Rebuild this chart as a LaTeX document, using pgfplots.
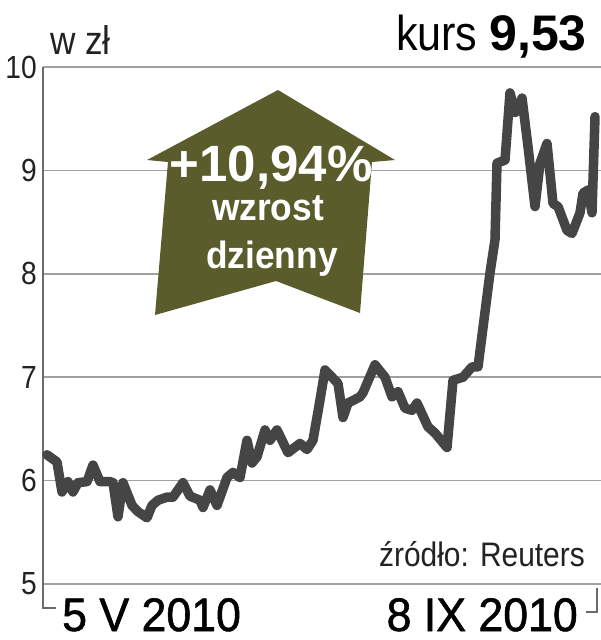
\documentclass[border=0pt]{standalone}
\usepackage{pgfplots}
\pgfplotsset{compat=1.18}
\usepackage{fontspec}
\setmainfont{Liberation Sans}
\newfontfamily\narrowfont{Liberation Sans}[FakeStretch=0.88]
\newfontfamily\narrowbold{Liberation Sans Bold}[FakeStretch=0.93]
\newfontfamily\semibold{Liberation Sans}[FakeBold=1.2, FakeStretch=0.95]
\definecolor{linegray}{HTML}{454545}
\definecolor{gridgray}{HTML}{A0A0A0}
\definecolor{axisgray}{HTML}{6A6A6A}
\definecolor{arrowolive}{HTML}{5A5C2B}
\definecolor{txt}{HTML}{222222}
\begin{document}
\begin{tikzpicture}
\useasboundingbox (0pt,0pt) rectangle (601pt,-640pt);
\begin{axis}[
  at={(43pt,-584pt)}, anchor=south west,
  scale only axis, width=558pt, height=517pt,
  xmin=43, xmax=601, ymin=5, ymax=10,
  axis x line*=bottom, axis y line*=left,
  x axis line style={draw=gridgray, line width=1.6pt},
  y axis line style={draw=axisgray, line width=1.8pt},
  xtick=\empty,
  ytick={5,6,7,8,9,10},
  ymajorgrids,
  grid style={draw=gridgray, line width=1.6pt},
  major tick length=0pt,
  /pgf/number format/assume math mode=true,
  yticklabel style={font=\narrowfont\fontsize{32}{32}\selectfont, text=txt, anchor=east, inner sep=0pt, xshift=-6pt},
  clip=false,
]
\addplot[linegray, line width=9.5pt, line join=round, line cap=round] coordinates {
(47,6.25) (57,6.18) (62,5.89) (68,5.99) (73,5.89) (78,5.98) (87,5.99) (93,6.15)
(100,5.99) (110,5.99) (113,5.98) (118,5.65) (123,5.98) (132,5.76) (138,5.70)
(147,5.64) (152,5.76) (158,5.81) (167,5.84) (173,5.84) (183,5.98) (190,5.85)
(200,5.81) (203,5.74) (210,5.91) (217,5.76) (227,6.03) (233,6.08) (240,6.03)
(247,6.39) (252,6.17) (257,6.23) (265,6.49) (270,6.39) (277,6.49) (288,6.27)
(300,6.36) (307,6.30) (313,6.39) (320,6.78) (325,7.07) (338,6.94) (343,6.61)
(348,6.75) (360,6.81) (363,6.85) (375,7.12) (385,7.00) (392,6.81) (398,6.86)
(405,6.70) (412,6.68) (417,6.75) (428,6.52) (435,6.46) (447,6.32) (453,6.97)
(463,7.00) (472,7.10) (478,7.10) (490,8.01) (495,8.33) (497,9.07) (505,9.10)
(510,9.75) (515,9.56) (518,9.58) (522,9.70) (528,9.23) (535,8.65) (540,9.07)
(547,9.26) (553,8.68) (558,8.65) (567,8.42) (572,8.39) (580,8.59) (583,8.78)
(588,8.81) (592,8.59) (595,9.52)
};
\end{axis}
\begin{scope}[x=1pt,y=-1pt]
  % arrow
  \fill[arrowolive] (278,90) -- (395,160) -- (372,162) -- (360,313) -- (276,281)
     -- (155,315) -- (168,162) -- (147,160) -- cycle;
  \node[text=white, font=\bfseries\fontsize{51}{51}\selectfont, anchor=base, inner sep=0pt] at (271,181) {+10,94\%};
  \node[text=white, font=\narrowbold\fontsize{38}{38}\selectfont, anchor=base, inner sep=0pt] at (268,220) {wzrost};
  \node[text=white, font=\narrowbold\fontsize{38}{38}\selectfont, anchor=base, inner sep=0pt] at (272,268) {dzienny};
  % titles
  \node[text=txt, font=\narrowfont\fontsize{40}{40}\selectfont, anchor=base west, inner sep=0pt] at (50,54) {w zł};
  \node[text=black, anchor=base east, inner sep=0pt] at (587,50) {{\narrowfont\fontsize{49}{49}\selectfont kurs }{\bfseries\fontsize{50}{50}\selectfont 9,53}};
  \node[text=txt, font=\narrowfont\fontsize{34}{34}\selectfont, anchor=base east, inner sep=0pt] at (585,566) {źródło: Reuters};
  % bottom labels and brackets
  \draw[axisgray, line width=1.8pt] (43,584) -- (43,608) -- (56,608);
  \draw[axisgray, line width=1.8pt] (597,588) -- (597,612) -- (586,612);
  \node[text=black, font=\semibold\fontsize{47}{47}\selectfont, anchor=base west, inner sep=0pt] at (62,631) {5 V 2010};
  \node[text=black, font=\semibold\fontsize{47}{47}\selectfont, anchor=base east, inner sep=0pt] at (578,631) {8 IX 2010};
\end{scope}
\end{tikzpicture}
\end{document}
